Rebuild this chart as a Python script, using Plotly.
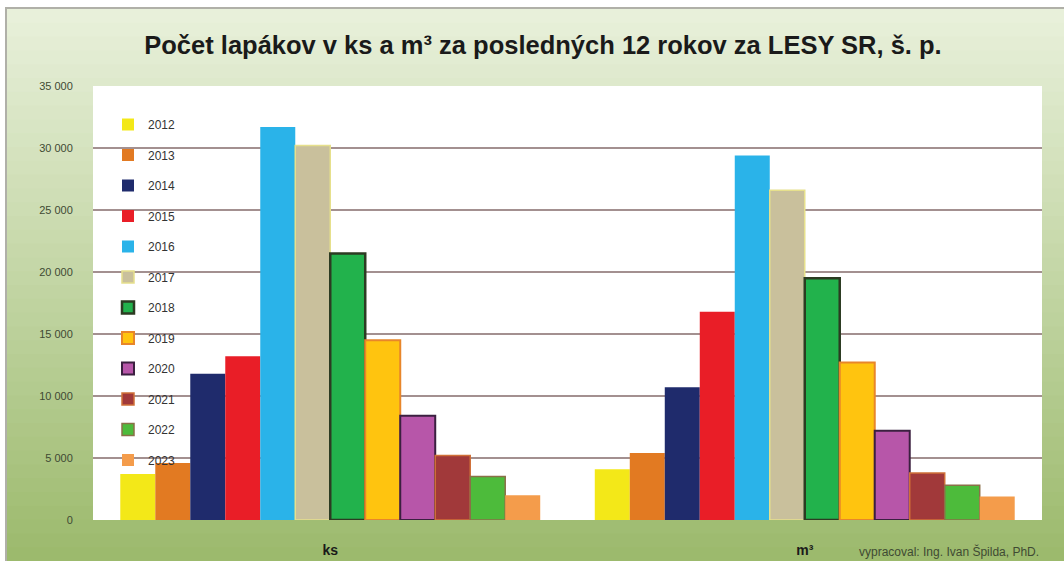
import plotly.graph_objects as go

categories = ["ks", "m³"]
years = ["2012", "2013", "2014", "2015", "2016", "2017", "2018", "2019", "2020", "2021", "2022", "2023"]
ks_values = [3700, 4600, 11800, 13200, 31700, 30200, 21500, 14500, 8400, 5200, 3500, 2000]
m3_values = [4100, 5400, 10700, 16800, 29400, 26600, 19500, 12700, 7200, 3800, 2800, 1900]
y_ticks = [0, 5000, 10000, 15000, 20000, 25000, 30000, 35000]
y_tick_labels = ["0", "5 000", "10 000", "15 000", "20 000", "25 000", "30 000", "35 000"]

fill_colors = ["#F3E818", "#E27A22", "#1F2B6C", "#E91E27", "#2AB3E9", "#C9C09C",
               "#22B24C", "#FFC40F", "#B756A9", "#A1393A", "#4DBB3B", "#F49C4B"]
line_colors = ["#F3E818", "#E27A22", "#1F2B6C", "#E91E27", "#2AB3E9", "#E6E08C",
               "#2C3B22", "#E8862A", "#3B2040", "#D07038", "#8A7048", "#F49C4B"]
line_widths = [0, 0, 0, 0, 0, 1.5, 2.5, 2, 2, 1.5, 1.5, 0]

W, H = 1064, 561
ML, MR, MT, MB = 93, 22, 86, 41
PW, PH = W - ML - MR, H - MT - MB

def px_x(x):
    return (x - ML) / PW

def px_y(y):
    return (H - MB - y) / PH

fig = go.Figure()
for i, yr in enumerate(years):
    fig.add_trace(go.Bar(
        x=categories, y=[ks_values[i], m3_values[i]], name=yr,
        legendgroup=yr,
        marker=dict(color=fill_colors[i], line=dict(color=line_colors[i], width=line_widths[i])),
    ))

# gradient background (styling only)
top = (0xE8, 0xF0, 0xDA)
bot = (0x9C, 0xBA, 0x6D)
n = 40
shapes = [dict(type="rect", xref="paper", yref="paper", x0=px_x(5), x1=px_x(1064),
               y0=px_y(561), y1=px_y(7), fillcolor="#B0B0A8", line=dict(width=0), layer="below")]
y_hi, y_lo = px_y(9), px_y(561)
for k in range(n):
    t = k / (n - 1)
    c = tuple(int(round(top[j] + (bot[j] - top[j]) * t)) for j in range(3))
    y1 = y_hi - (y_hi - y_lo) * k / n
    y0 = y_hi - (y_hi - y_lo) * (k + 1) / n
    shapes.append(dict(type="rect", xref="paper", yref="paper", x0=px_x(7), x1=px_x(1064),
                       y0=y0 - 0.002, y1=y1, fillcolor="rgb(%d,%d,%d)" % c,
                       line=dict(width=0), layer="below"))
shapes.append(dict(type="rect", xref="paper", yref="paper", x0=0, x1=1, y0=0, y1=1,
                   fillcolor="white", line=dict(width=0), layer="below"))

fig.update_layout(
    width=W, height=H,
    margin=dict(l=ML, r=MR, t=MT, b=MB, autoexpand=False),
    paper_bgcolor="white",
    plot_bgcolor="rgba(0,0,0,0)",
    shapes=shapes,
    barmode="group", bargap=0.115, bargroupgap=0,
    font=dict(family="Liberation Sans, Arial, sans-serif", color="#333333"),
    title=dict(text="<b>Počet lapákov v ks a m³ za posledných 12 rokov za LESY SR, š. p.</b>",
               x=543 / W, xref="container", xanchor="center",
               y=1 - 45 / H, yref="container", yanchor="middle",
               font=dict(size=25.5, color="#1a1a1a", family="Liberation Sans, Arial, sans-serif")),
    legend=dict(x=px_x(108), y=px_y(110), xanchor="left", yanchor="top",
                bgcolor="rgba(0,0,0,0)", tracegroupgap=11.5,
                font=dict(size=12, color="#333333"), itemwidth=30),
    xaxis=dict(tickvals=categories, ticktext=["<b>ks</b>", "<b>m³</b>"],
               ticks="outside", ticklen=17, tickcolor="rgba(0,0,0,0)", automargin=False,
               tickfont=dict(size=14, color="#1a1a1a"), showgrid=False, zeroline=False,
               showline=False),
    yaxis=dict(range=[0, 35000], tickvals=y_ticks, ticktext=y_tick_labels,
               ticks="outside", ticklen=17, tickcolor="rgba(0,0,0,0)", automargin=False,
               tickfont=dict(size=11, color="#3F4A33"),
               showgrid=True, gridcolor="#A39090", gridwidth=2, zeroline=False),
    annotations=[dict(text="vypracoval: Ing. Ivan Špilda, PhD.", xref="paper", yref="paper",
                      x=px_x(1041), y=px_y(551), xanchor="right", yanchor="middle", showarrow=False,
                      font=dict(size=12, color="#3F4A33"))],
)

fig.write_html("out.html", config={"displayModeBar": False},
               post_script="document.body.style.margin='0';document.body.style.overflow='hidden';")
